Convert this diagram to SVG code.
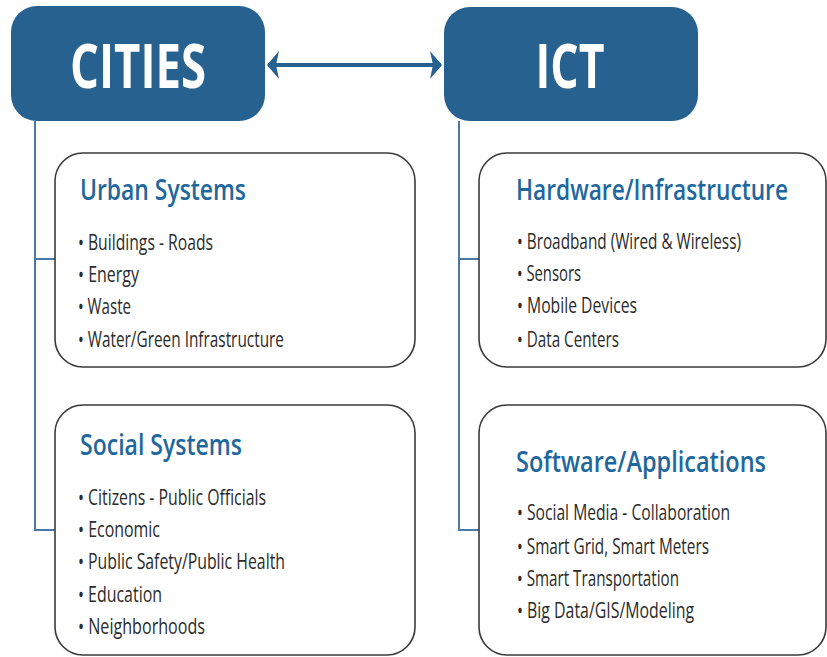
<svg xmlns="http://www.w3.org/2000/svg" width="827" height="657" viewBox="0 0 827 657">
<style>
.hdr{fill:#26618f}
.hdrt{font-family:"Open Sans","Liberation Sans",sans-serif;font-weight:700;font-size:60px;fill:#fff}
.box{fill:#fff;stroke:#3a3a3a;stroke-width:1.6}
.ttl{font-family:"Open Sans","Liberation Sans",sans-serif;font-weight:600;font-size:28px;fill:#1f679f}
.itm{font-family:"Open Sans","Liberation Sans",sans-serif;font-size:21px;fill:#2b2b2b}
.con{fill:none;stroke:#4a78a8;stroke-width:2}
</style>
<defs>
<marker id="ah" viewBox="0 0 12 28" refX="11" refY="14" markerWidth="12" markerHeight="28" markerUnits="userSpaceOnUse" orient="auto-start-reverse">
<path d="M0,0 L12,14 L0,28 L3,14 Z" fill="#26618f"/>
</marker>
</defs>
<g id="connectors">
<path class="con" d="M35,121 V530 H55 M35,259 H55"/>
<path class="con" d="M459,121 V530 H479 M459,259 H479"/>
<line x1="268" y1="65" x2="441" y2="65" stroke="#26618f" stroke-width="4" marker-start="url(#ah)" marker-end="url(#ah)"/>
</g>
<g id="cities">
<rect class="hdr" x="11" y="6" width="254" height="115" rx="26"/>
<text class="hdrt" x="138" y="88" text-anchor="middle" textLength="136" lengthAdjust="spacingAndGlyphs">CITIES</text>
</g>
<g id="ict">
<rect class="hdr" x="444" y="7" width="254" height="114" rx="26"/>
<text class="hdrt" x="570" y="88" text-anchor="middle" textLength="69" lengthAdjust="spacingAndGlyphs">ICT</text>
</g>
<g id="urban">
<rect class="box" x="55" y="153" width="360" height="214" rx="28"/>
<text class="ttl" x="80" y="200" textLength="166" lengthAdjust="spacingAndGlyphs">Urban Systems</text>
<text class="itm" x="78" y="250" textLength="135" lengthAdjust="spacingAndGlyphs">• Buildings - Roads</text>
<text class="itm" x="78" y="282" textLength="61" lengthAdjust="spacingAndGlyphs">• Energy</text>
<text class="itm" x="78" y="314" textLength="53" lengthAdjust="spacingAndGlyphs">• Waste</text>
<text class="itm" x="78" y="347" textLength="206" lengthAdjust="spacingAndGlyphs">• Water/Green Infrastructure</text>
</g>
<g id="social">
<rect class="box" x="55" y="405" width="360" height="250" rx="28"/>
<text class="ttl" x="80" y="455" textLength="162" lengthAdjust="spacingAndGlyphs">Social Systems</text>
<text class="itm" x="78" y="505" textLength="188" lengthAdjust="spacingAndGlyphs">• Citizens - Public Officials</text>
<text class="itm" x="78" y="537" textLength="82" lengthAdjust="spacingAndGlyphs">• Economic</text>
<text class="itm" x="78" y="569" textLength="207" lengthAdjust="spacingAndGlyphs">• Public Safety/Public Health</text>
<text class="itm" x="78" y="602" textLength="84" lengthAdjust="spacingAndGlyphs">• Education</text>
<text class="itm" x="78" y="634" textLength="127" lengthAdjust="spacingAndGlyphs">• Neighborhoods</text>
</g>
<g id="hardware">
<rect class="box" x="479" y="153" width="347" height="214" rx="28"/>
<text class="ttl" x="516" y="200" textLength="272" lengthAdjust="spacingAndGlyphs">Hardware/Infrastructure</text>
<text class="itm" x="517" y="249" textLength="224" lengthAdjust="spacingAndGlyphs">• Broadband (Wired &amp; Wireless)</text>
<text class="itm" x="517" y="281" textLength="64" lengthAdjust="spacingAndGlyphs">• Sensors</text>
<text class="itm" x="517" y="313" textLength="120" lengthAdjust="spacingAndGlyphs">• Mobile Devices</text>
<text class="itm" x="517" y="347" textLength="102" lengthAdjust="spacingAndGlyphs">• Data Centers</text>
</g>
<g id="software">
<rect class="box" x="479" y="405" width="347" height="250" rx="28"/>
<text class="ttl" x="516" y="472" textLength="250" lengthAdjust="spacingAndGlyphs">Software/Applications</text>
<text class="itm" x="517" y="520" textLength="213" lengthAdjust="spacingAndGlyphs">• Social Media - Collaboration</text>
<text class="itm" x="517" y="554" textLength="192" lengthAdjust="spacingAndGlyphs">• Smart Grid, Smart Meters</text>
<text class="itm" x="517" y="586" textLength="162" lengthAdjust="spacingAndGlyphs">• Smart Transportation</text>
<text class="itm" x="517" y="618" textLength="177" lengthAdjust="spacingAndGlyphs">• Big Data/GIS/Modeling</text>
</g>
</svg>
